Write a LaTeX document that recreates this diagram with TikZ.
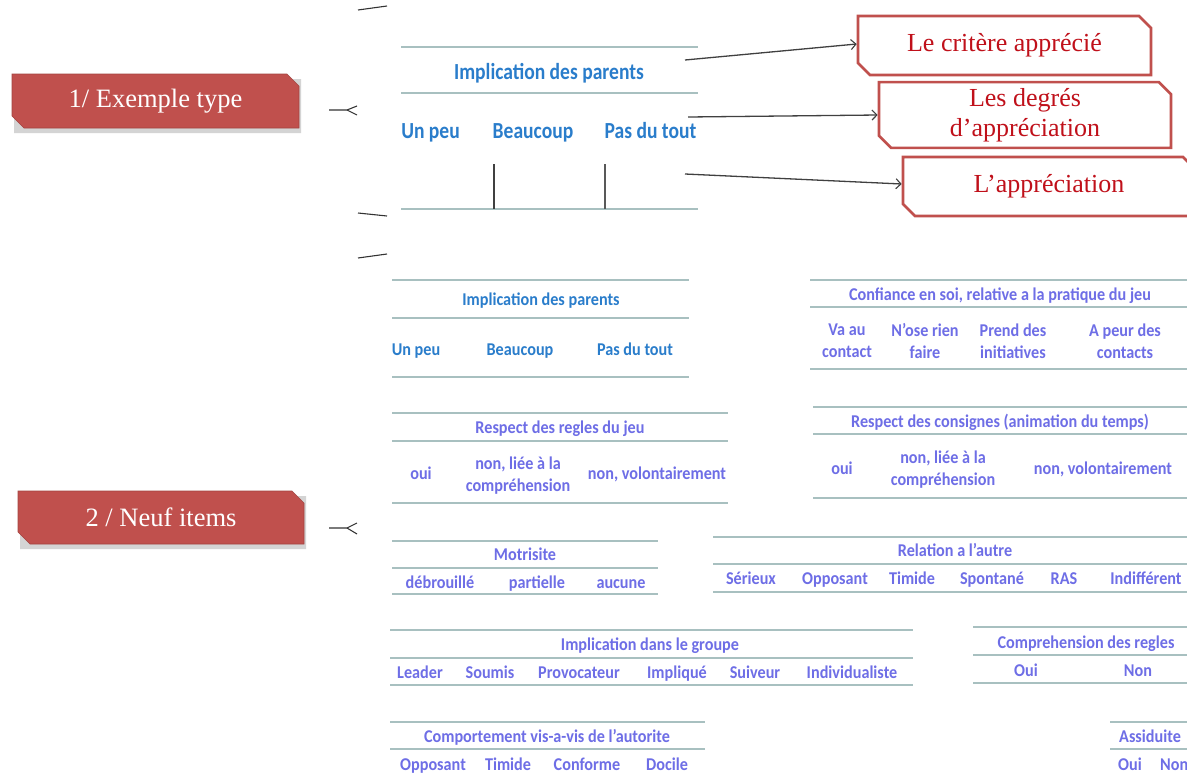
\documentclass[tikz,border=0pt]{standalone}
\usepackage{fontspec}
\setmainfont{Liberation Serif}
\newfontfamily\tabfont{Carlito}[FakeStretch=0.9]
\newfontfamily\topfont{Carlito}[FakeStretch=0.85]
\usetikzlibrary{shapes.misc,arrows.meta}
\definecolor{redfill}{HTML}{C0504D}
\definecolor{redtxt}{HTML}{C0101A}
\definecolor{tblue}{HTML}{2A7DCB}
\definecolor{tpurple}{HTML}{6E6EE6}
\definecolor{tline}{HTML}{A8C0C0}
\definecolor{stub}{HTML}{333333}
\tikzset{
  chbox/.style={chamfered rectangle, chamfered rectangle corners={north east,south west},
    chamfered rectangle xsep=6pt, chamfered rectangle ysep=6pt, inner sep=0pt, align=center},
  fillbox/.style={chbox, fill=redfill, draw=redfill!85!black, line width=0.6pt, text=white,
    font=\fontsize{26.5}{30}\selectfont},
  shadowbox/.style={chbox, fill=black!17, draw=none},
  linebox/.style={chbox, fill=white, draw=redfill, line width=2.6pt, text=redtxt,
    font=\fontsize{26}{30}\selectfont},
  pointer/.style={draw=black!75, line width=1.3pt, -{Straight Barb[length=5pt,width=10pt,line width=1.1pt]}},
  stubline/.style={draw=stub, line width=1.1pt},
  rule/.style={draw=tline, line width=2.6pt},
  bttl/.style={text=tblue, inner sep=0pt, text height=15pt, text depth=1pt, font=\topfont\bfseries\fontsize{23}{26}\selectfont},
  sttl/.style={text=tblue, inner sep=0pt, text height=12pt, text depth=1pt, font=\tabfont\bfseries\fontsize{18}{22}\selectfont},
  pttl/.style={text=tpurple, inner sep=0pt, text height=12pt, text depth=1pt, font=\tabfont\bfseries\fontsize{18}{22}\selectfont},
  ptwo/.style={text=tpurple, inner sep=0pt, align=center, yshift=-2pt, font=\tabfont\bfseries\fontsize{18}{22}\selectfont},
}
\begin{document}
\begin{tikzpicture}[x=1pt,y=-1pt]
\useasboundingbox (0,0) rectangle (1187,774);
\clip (0,0) rectangle (1187,774);
\fill[white] (0,0) rectangle (1187,774);

% ---- filled section boxes
\node[shadowbox, minimum width=287pt, minimum height=54pt] at (157.5,106) {};
\node[fillbox, minimum width=287pt, minimum height=54pt] (sec1) at (155.5,101) {1/ Exemple type};
\node[shadowbox, minimum width=286pt, minimum height=53pt] at (163,522.5) {};
\node[fillbox, minimum width=286pt, minimum height=53pt] (sec2) at (161,517.5) {2 / Neuf items};

% ---- mind-map stubs
\draw[stubline] (358,10) -- (387,6);
\draw[stubline] (329,110) -- (347,110) -- (357,106);
\draw[stubline] (347,110) -- (357,115);
\draw[stubline] (358,213) -- (387,216);
\draw[stubline] (358,258) -- (387,254);
\draw[stubline] (329,528) -- (347,528) -- (357,523);
\draw[stubline] (347,528) -- (357,534);

% ---- example table
\draw[rule] (401,47) -- (698,47);
\draw[rule] (401,93) -- (698,93);
\draw[rule] (401,209) -- (698,209);
\node[bttl] (ex-t) at (549,72) {Implication des parents};
\node[bttl] (ex-a) at (430.5,131) {Un peu};
\node[bttl] (ex-b) at (533,131) {Beaucoup};
\node[bttl] (ex-c) at (650.5,131) {Pas du tout};
\draw[draw=black!75, line width=1.4pt] (494,164) -- (494,209);
\draw[draw=black!65, line width=2.6pt] (605,164) -- (605,209);

% ---- callout boxes
\node[linebox, minimum width=293pt, minimum height=59pt] (c1) at (1004.5,45.5) {Le critère apprécié};
\node[linebox, minimum width=292pt, minimum height=60pt] (c2) at (1025,115) {Les degrés\\d’appréciation};
\node[linebox, minimum width=292pt, minimum height=59pt] (c3) at (1049,186.5) {L’appréciation};
\coordinate (p1) at (685,60);
\coordinate (p2) at (688,117);
\coordinate (p3) at (685,174);
\draw[pointer] (p1) -- (c1.west |- 0,44);
\draw[pointer] (p2) -- (c2.west |- 0,115);
\draw[pointer] (p3) -- (c3.west |- 0,184);

% ---- table: Implication des parents
\draw[rule] (392,280) -- (689,280);
\draw[rule] (392,318) -- (689,318);
\draw[rule] (392,377) -- (689,377);
\node[sttl] (t1) at (541,300) {Implication des parents};
\node[sttl] (t1a) at (416,350) {Un peu};
\node[sttl] (t1b) at (520,350) {Beaucoup};
\node[sttl] (t1c) at (635,350) {Pas du tout};

% ---- table: Respect des regles du jeu
\draw[rule] (392,413) -- (728,413);
\draw[rule] (392,441) -- (728,441);
\draw[rule] (392,503) -- (728,503);
\node[pttl] (t2) at (560,428) {Respect des regles du jeu};
\node[pttl] (t2a) at (421,474) {oui};
\node[ptwo] (t2b) at (518,474) {non, liée à la\\compréhension};
\node[pttl] (t2c) at (657,474) {non, volontairement};

% ---- table: Confiance en soi
\draw[rule] (810,280) -- (1187,280);
\draw[rule] (810,307) -- (1187,307);
\draw[rule] (810,369) -- (1187,369);
\node[pttl] (t3) at (1000,295) {Confiance en soi, relative a la pratique du jeu};
\node[ptwo] (t3a) at (847,339) {Va au\\contact};
\node[ptwo] (t3b) at (925,339) {N’ose rien\\faire};
\node[ptwo] (t3c) at (1013,339) {Prend des\\initiatives};
\node[ptwo] (t3d) at (1125,339) {A peur des\\contacts};

% ---- table: Respect des consignes
\draw[rule] (813,407) -- (1187,407);
\draw[rule] (813,434) -- (1187,434);
\draw[rule] (813,498) -- (1187,498);
\node[pttl] (t4) at (1000,422) {Respect des consignes (animation du temps)};
\node[pttl] (t4a) at (842,469) {oui};
\node[ptwo] (t4b) at (943,468) {non, liée à la\\compréhension};
\node[pttl] (t4c) at (1103,469) {non, volontairement};

% ---- table: Motrisite
\draw[rule] (392,541) -- (658,541);
\draw[rule] (392,568) -- (658,568);
\draw[rule] (392,594) -- (658,594);
\node[pttl] (t5) at (525,555) {Motrisite};
\node[pttl] (t5a) at (440,583) {débrouillé};
\node[pttl] (t5b) at (537,583) {partielle};
\node[pttl] (t5c) at (621,583) {aucune};

% ---- table: Relation a l'autre
\draw[rule] (713,537) -- (1187,537);
\draw[rule] (713,564) -- (1187,564);
\draw[rule] (713,592) -- (1187,592);
\node[pttl] (t6) at (955,551) {Relation a l’autre};
\node[pttl] (t6a) at (751,579) {Sérieux};
\node[pttl] (t6b) at (835,579) {Opposant};
\node[pttl] (t6c) at (912,579) {Timide};
\node[pttl] (t6d) at (992,579) {Spontané};
\node[pttl] (t6e) at (1064,579) {RAS};
\node[pttl] (t6f) at (1146,579) {Indifférent};

% ---- table: Implication dans le groupe
\draw[rule] (390,630) -- (913,630);
\draw[rule] (390,658) -- (913,658);
\draw[rule] (390,685) -- (913,685);
\node[pttl] (t7) at (650,645) {Implication dans le groupe};
\node[pttl] (t7a) at (420,673) {Leader};
\node[pttl] (t7b) at (490,673) {Soumis};
\node[pttl] (t7c) at (579,673) {Provocateur};
\node[pttl] (t7d) at (677,673) {Impliqué};
\node[pttl] (t7e) at (755,673) {Suiveur};
\node[pttl] (t7f) at (852,673) {Individualiste};

% ---- table: Comprehension des regles
\draw[rule] (973,627) -- (1187,627);
\draw[rule] (973,655) -- (1187,655);
\draw[rule] (973,683) -- (1187,683);
\node[pttl] (t8) at (1086,643) {Comprehension des regles};
\node[pttl] (t8a) at (1026,671) {Oui};
\node[pttl] (t8b) at (1138,671) {Non};

% ---- table: Comportement vis-a-vis de l'autorite
\draw[rule] (390,722) -- (705,722);
\draw[rule] (390,749) -- (705,749);
\node[pttl] (t9) at (547,737) {Comportement vis-a-vis de l’autorite};
\node[pttl] (t9a) at (433,765) {Opposant};
\node[pttl] (t9b) at (508,765) {Timide};
\node[pttl] (t9c) at (587,765) {Conforme};
\node[pttl] (t9d) at (667,765) {Docile};

% ---- table: Assiduite
\draw[rule] (1110,722) -- (1187,722);
\draw[rule] (1110,749) -- (1187,749);
\node[pttl, anchor=west] (t10) at (1119,737) {Assiduite};
\node[pttl] (t10a) at (1130,765) {Oui};
\node[pttl, anchor=west] (t10b) at (1160,765) {Non};
\end{tikzpicture}
\end{document}
